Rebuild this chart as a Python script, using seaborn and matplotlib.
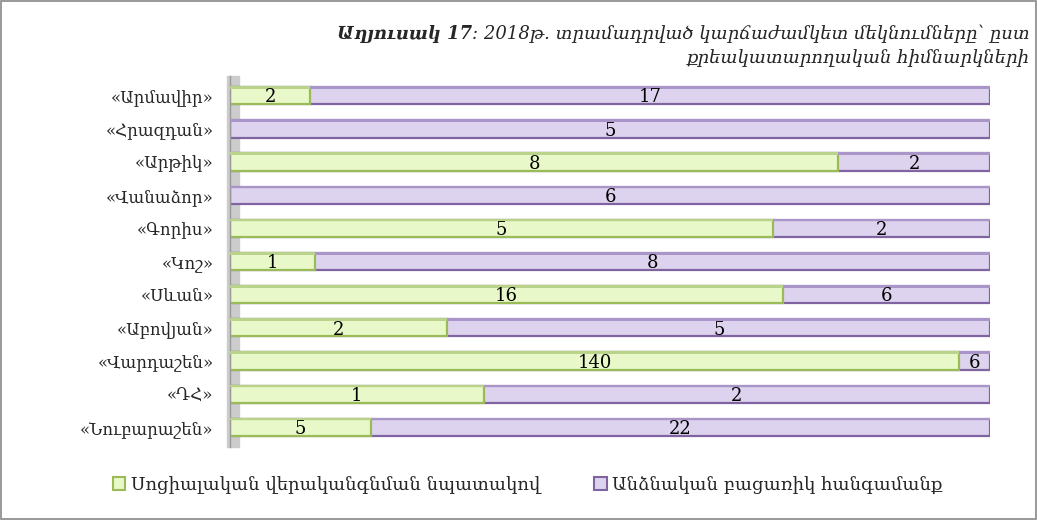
import pandas as pd
import seaborn as sns
import matplotlib.pyplot as plt
from matplotlib.patches import Patch, Rectangle

# Data (top to bottom)
institutions = ['«Արմավիր»', '«Հրազդան»', '«Արթիկ»', '«Վանաձոր»', '«Գորիս»', '«Կոշ»',
                '«Սևան»', '«Աբովյան»', '«Վարդաշեն»', '«ԴՀ»', '«Նուբարաշեն»']
social = [2, 0, 8, 0, 5, 1, 16, 2, 140, 1, 5]
unescorted = [17, 5, 2, 6, 2, 8, 6, 5, 6, 2, 22]

series_names = ['Սոցիալական վերականգնման նպատակով', 'Անձնական բացառիկ հանգամանք']
title_bold = 'Աղյուսակ 17'
title_rest = ': 2018թ. տրամադրված կարճաժամկետ մեկնումները՝ ըստ'
title_line2 = 'քրեակատարողական հիմնարկների'

green_face, green_edge = '#e8f8c8', '#9bbb59'
purple_face, purple_edge = '#ddd3ee', '#8064a2'

df = pd.DataFrame({'inst': institutions, 'social': social, 'unesc': unescorted})
df['total'] = df['social'] + df['unesc']
df['s_share'] = df['social'] / df['total']
df['all'] = 1.0

sns.set_style('white')
plt.rcParams['font.family'] = ['DejaVu Serif']

fig = plt.figure(figsize=(10.37, 5.2), dpi=100)
ax = fig.add_axes([0.222, 0.140, 0.733, 0.714])

# 100% stacked: full bar in purple, green share drawn over it
sns.barplot(data=df, x='all', y='inst', orient='h', color=purple_face,
            edgecolor=purple_edge, linewidth=1.6, width=0.52, ax=ax, saturation=1)
sns.barplot(data=df, x='s_share', y='inst', orient='h', color=green_face,
            edgecolor=green_edge, linewidth=1.6, width=0.52, ax=ax, saturation=1)

# darker top band for a slight 3D look
for i, row in df.iterrows():
    if row['social'] > 0:
        ax.barh(i - 0.25, row['s_share'], height=0.08, color='#b9d48a', lw=0, zorder=3)
    if row['unesc'] > 0:
        ax.barh(i - 0.25, 1 - row['s_share'], left=row['s_share'], height=0.08,
                color='#a995c8', lw=0, zorder=3)

# value labels centred in each segment
for i, row in df.iterrows():
    if row['social'] > 0:
        ax.text(row['s_share'] / 2, i + 0.05, str(row['social']), ha='center', va='center',
                fontsize=13, color='black', zorder=5)
    if row['unesc'] > 0:
        ax.text(row['s_share'] + (1 - row['s_share']) / 2, i + 0.05, str(row['unesc']),
                ha='center', va='center', fontsize=13, color='black', zorder=5)

ax.set_xlim(0, 1.0)
ax.set_ylim(10.6, -0.6)
ax.set_xlabel('')
ax.set_ylabel('')
ax.set_xticks([])
ax.tick_params(axis='y', which='major', length=0, labelsize=12, pad=12)
ax.set_yticks([i + 0.5 for i in range(-1, len(institutions))], minor=True)
ax.tick_params(axis='y', which='minor', length=4, color='#888888', width=1)
for s in ['top', 'right', 'bottom']:
    ax.spines[s].set_visible(False)
ax.spines['left'].set_color('#999999')
ax.spines['left'].set_linewidth(1)

# grey back wall
ax.axvspan(-0.004, 0.012, color='#cccccc', zorder=0, clip_on=False)

# title, right aligned, bold part placed left of the italic part
t1 = fig.text(0.993, 0.925, title_rest, ha='right', va='baseline', fontsize=13, style='italic')
fig.canvas.draw()
ax.annotate(title_bold, xy=(0, 0), xycoords=t1, ha='right', va='bottom', fontsize=13,
            style='italic', fontweight='bold', annotation_clip=False)
fig.text(0.993, 0.878, title_line2, ha='right', va='baseline', fontsize=13, style='italic')

handles = [Patch(facecolor=green_face, edgecolor=green_edge, lw=1.5),
           Patch(facecolor=purple_face, edgecolor=purple_edge, lw=1.5)]
fig.legend(handles, series_names, loc='center left', bbox_to_anchor=(0.093, 0.068),
           ncol=2, frameon=False, fontsize=13, handlelength=0.7, handleheight=0.7,
           handletextpad=0.3, columnspacing=3.0)

fig.patches.append(Rectangle((0.001, 0.001), 0.998, 0.997, transform=fig.transFigure,
                             fill=False, edgecolor='#888888', lw=1.2))

fig.savefig('out.png', dpi=100)
